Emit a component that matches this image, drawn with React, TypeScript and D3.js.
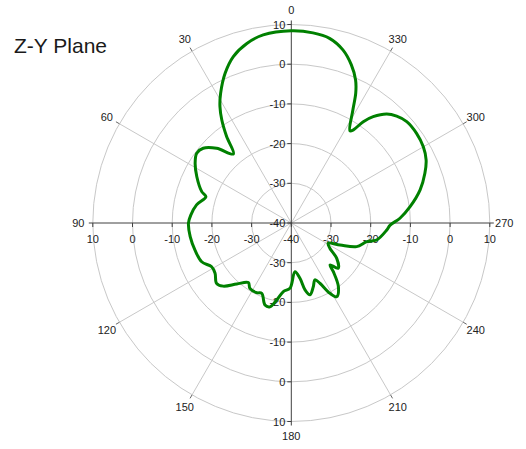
import React, { useEffect, useRef } from 'react';
import * as d3 from 'd3';

// Radiation pattern, Z-Y plane (angle in degrees, gain in dB)
const angles: number[] = [
  0, 8.5, 13.9, 19.2, 23.9, 28.6, 31.5, 34, 36.8, 40,
  45, 49.7, 53.6, 58.2, 63.9, 70.7, 72.9, 79.2, 85.5, 90,
  97.7, 105.7, 113.4, 118.8, 123.4, 128.9, 132.8, 138.2, 144.2, 147.7,
  153.6, 157.2, 162.2, 165.7, 169.3, 173.4, 178.9, 184.3, 188.9, 191.6,
  194.6, 199, 202.6, 205.4, 208.8, 211.6, 216.4, 220.8, 222.7, 226,
  232.1, 236.8, 241.2, 245.7, 250.1, 256.1, 258.7, 265.8, 268.8, 272.5,
  277.8, 284.4, 290.4, 295.1, 300, 305.6, 311.3, 315.4, 318.8, 322.4,
  324.6, 326.3, 327.5, 331.4, 333.6, 335.8, 339.2, 343.4, 348.3, 353.5,
];

const gains: number[] = [
  8.4, 7.9, 6.6, 4.4, 1.2, -2.8, -5.6, -8.7, -12.8, -17.3,
  -13.4, -10.9, -10.4, -11.5, -13.5, -16.1, -17.5, -15.7, -14.6, -14.1,
  -14.3, -14.8, -15.4, -17.1, -17.0, -15.8, -16.6, -19.4, -21.5, -20.5,
  -20.4, -20.8, -18.3, -18.2, -20.3, -22.6, -23.6, -27.7, -25.9, -22.8,
  -21.3, -23, -24.5, -23.2, -19.8, -18.2, -20, -23.8, -25.6, -23.6,
  -25.5, -28.4, -29.4, -26.5, -22.5, -20.4, -18.1, -15.9, -15.1, -12.6,
  -9.8, -6.5, -4.1, -2.5, -1.6, -1.2, -1.3, -2.2, -3.5, -6.2,
  -8.7, -11.8, -12.5, -7.6, -3.5, -0.5, 2.6, 5.5, 7.5, 8.2,
];

const ringValues: number[] = [-30, -20, -10, 0, 10];
const axisTicks: number[] = [-40, -30, -20, -10, 0, 10];
const spokeAngles: number[] = [0, 30, 60, 90, 120, 150, 180, 210, 240, 270, 300, 330];

const title = 'Z-Y Plane';

const App: React.FC = () => {
  const svgRef = useRef<SVGSVGElement>(null);

  useEffect(() => {
    if (!svgRef.current) return;

    const svg = d3.select(svgRef.current);
    svg.selectAll('*').remove();

    const cx = 291.3;
    const cy = 223;
    const R = 198.5;
    const font = "'Liberation Sans', Arial, sans-serif";

    const r = d3.scaleLinear().domain([-40, 10]).range([0, R]);
    // counter-clockwise, 0 at top
    const toXY = (deg: number, rad: number): [number, number] => {
      const a = (deg * Math.PI) / 180;
      return [cx - rad * Math.sin(a), cy - rad * Math.cos(a)];
    };

    const g = svg.append('g');

    // Rings
    ringValues.forEach(v => {
      g.append('circle')
        .attr('cx', cx)
        .attr('cy', cy)
        .attr('r', r(v))
        .attr('fill', 'none')
        .attr('stroke', '#c8c8c8')
        .attr('stroke-width', 1);
    });

    // Spokes (diagonal ones light, axes dark)
    spokeAngles.forEach(a => {
      const [x1, y1] = toXY(a, R);
      const [x2, y2] = toXY(a, R + 4);
      if (a % 90 !== 0) {
        g.append('line')
          .attr('x1', cx).attr('y1', cy)
          .attr('x2', x1).attr('y2', y1)
          .attr('stroke', '#c8c8c8')
          .attr('stroke-width', 1);
        g.append('line')
          .attr('x1', x1).attr('y1', y1)
          .attr('x2', x2).attr('y2', y2)
          .attr('stroke', '#666')
          .attr('stroke-width', 1);
      }
      const [lx, ly] = toXY(a, R + 14.5);
      g.append('text')
        .attr('x', lx)
        .attr('y', ly)
        .attr('text-anchor', 'middle')
        .attr('dominant-baseline', 'central')
        .attr('font-family', font)
        .attr('font-size', 11)
        .attr('fill', '#222')
        .text(String(a));
    });

    // Main axes
    g.append('line')
      .attr('x1', cx).attr('y1', cy - R - 4)
      .attr('x2', cx).attr('y2', cy + R + 4)
      .attr('stroke', '#404040')
      .attr('stroke-width', 1);
    g.append('line')
      .attr('x1', cx - R - 4).attr('y1', cy)
      .attr('x2', cx + R + 4).attr('y2', cy)
      .attr('stroke', '#404040')
      .attr('stroke-width', 1);

    // Vertical axis ticks + labels (both directions)
    [-1, 1].forEach(dir => {
      axisTicks.forEach(v => {
        if (v === -40 && dir === 1) return;
        const y = cy + dir * r(v);
        g.append('line')
          .attr('x1', cx - 4).attr('y1', y)
          .attr('x2', cx).attr('y2', y)
          .attr('stroke', '#404040');
        g.append('text')
          .attr('x', cx - 6)
          .attr('y', y)
          .attr('text-anchor', 'end')
          .attr('dominant-baseline', 'central')
          .attr('font-family', font)
          .attr('font-size', 11)
          .attr('fill', '#222')
          .text(String(v));
      });
    });

    // Horizontal axis ticks + labels
    [-1, 1].forEach(dir => {
      axisTicks.forEach(v => {
        if (v === -40 && dir === 1) return;
        const x = cx + dir * r(v);
        g.append('line')
          .attr('x1', x).attr('y1', cy)
          .attr('x2', x).attr('y2', cy + 4)
          .attr('stroke', '#404040');
        g.append('text')
          .attr('x', x)
          .attr('y', cy + 16)
          .attr('text-anchor', 'middle')
          .attr('dominant-baseline', 'central')
          .attr('font-family', font)
          .attr('font-size', 11)
          .attr('fill', '#222')
          .text(String(v));
      });
    });

    // Pattern
    const pts: [number, number][] = angles.map((a, i) => [a, gains[i]]);
    const line = d3.lineRadial<[number, number]>()
      .angle(d => (-d[0] * Math.PI) / 180)
      .radius(d => r(d[1]))
      .curve(d3.curveCatmullRomClosed.alpha(0.5));

    g.append('path')
      .datum(pts)
      .attr('transform', `translate(${cx},${cy})`)
      .attr('d', line)
      .attr('fill', 'none')
      .attr('stroke', '#008000')
      .attr('stroke-width', 3)
      .attr('stroke-linejoin', 'round');

    // Title
    svg.append('text')
      .attr('x', 14)
      .attr('y', 53)
      .attr('font-family', font)
      .attr('font-size', 21)
      .attr('fill', '#1a1a1a')
      .text(title);
  }, []);

  return (
    <svg
      ref={svgRef}
      width={526}
      height={449}
      style={{ position: 'absolute', left: 0, top: 0, background: '#fff' }}
    />
  );
};

export default App;
